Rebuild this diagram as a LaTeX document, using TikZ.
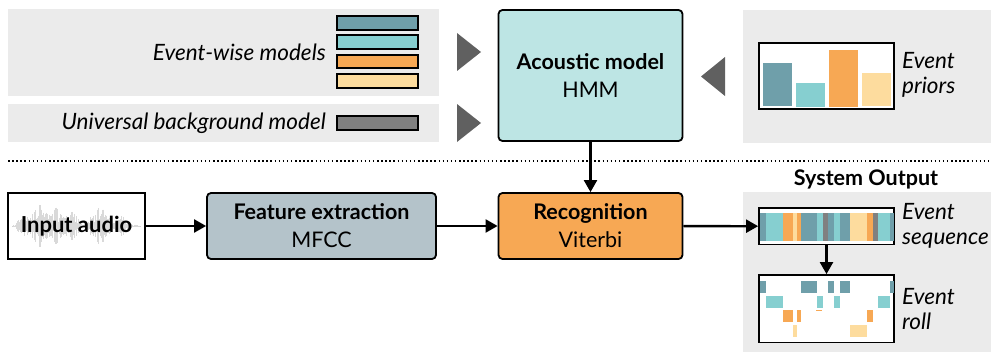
\documentclass[tikz,border=0pt]{standalone}
\usepackage{fontspec}
\setmainfont{Lato}
\usetikzlibrary{arrows.meta}
\definecolor{cTeal}{HTML}{6F9FAA}
\definecolor{cCyan}{HTML}{86CFD0}
\definecolor{cOrange}{HTML}{F7A854}
\definecolor{cYellow}{HTML}{FDDC9E}
\definecolor{cGrayM}{HTML}{808080}
\definecolor{cTri}{HTML}{606060}
\definecolor{cPanel}{HTML}{EBEBEB}
\definecolor{cAcoustic}{HTML}{BDE5E4}
\definecolor{cFeature}{HTML}{B4C3CA}
\begin{document}
\begin{tikzpicture}[x=1pt,y=-1pt,
  panel/.style={fill=cPanel},
  procbox/.style={draw=black, line width=1.8pt, rounded corners=4pt, inner sep=0pt, align=center,
    font=\fontsize{21.5}{28}\selectfont},
  plainbox/.style={draw=black, line width=1.8pt, inner sep=0pt, fill=white},
  modelbar/.style={draw=black, line width=1.2pt},
  lbl/.style={font=\fontsize{22.5}{25}\selectfont\itshape, inner sep=0pt},
  arr/.style={line width=2.3pt, -{Triangle[length=12pt,width=13pt]}},
  tri/.style={fill=cTri}
]
\useasboundingbox (0,0) rectangle (991,353);

% ---------- panels ----------
\fill[panel] (8,9) rectangle (439,96);
\fill[panel] (8,104) rectangle (439,142);
\fill[panel] (743,10) rectangle (991,143);
\fill[panel] (743,192) rectangle (991,352);

% ---------- event-wise models ----------
\node[lbl, anchor=east] (ewm) at (326,52) {Event-wise models};
\draw[modelbar, fill=cTeal]   (337,16) rectangle (418,30);
\draw[modelbar, fill=cCyan]   (337,35) rectangle (418,49);
\draw[modelbar, fill=cOrange] (337,55) rectangle (418,68);
\draw[modelbar, fill=cYellow] (337,74) rectangle (418,88);

\node[lbl, anchor=east] (ubm) at (326,123) {Universal background model};
\draw[modelbar, fill=cGrayM] (337,116) rectangle (418,130);

% triangles
\fill[tri] (457,33) -- (481,52) -- (457,71) -- cycle;
\fill[tri] (457,104) -- (481,123) -- (457,142) -- cycle;
\fill[tri] (725,57) -- (701,76.5) -- (725,96) -- cycle;

% ---------- acoustic model ----------
\node[procbox, fill=cAcoustic, minimum width=184pt, minimum height=131pt] (am) at (590.5,75.5)
  {\textbf{Acoustic model}\\HMM};

% ---------- priors ----------
\draw[plainbox] (759,43) rectangle (894,109);
\fill[cTeal]   (763,63) rectangle (792,106);
\fill[cCyan]   (796,83) rectangle (825,107);
\fill[cOrange] (829,50) rectangle (858,107);
\fill[cYellow] (862,73) rectangle (891,106);
\node[lbl, anchor=west, align=left] (pri) at (902,75) {Event\\priors};

% ---------- separator ----------
\draw[line width=1.6pt, dash pattern=on 1.5pt off 2.6pt] (8,161) -- (991,161);

% ---------- input audio ----------
\node[plainbox, minimum width=137pt, minimum height=66pt] (inp) at (76.5,226) {};
\draw[gray!35, line width=0.5pt] (12,226) -- (141,226);
\pgfmathsetseed{7}
\foreach \i in {0,...,200}{
  \pgfmathsetmacro\xx{13+\i*0.63}
  \pgfmathsetmacro\env{max(2,30-3*abs(\xx-24),44-2.5*abs(\xx-40),40-2.5*abs(\xx-56),36-3*abs(\xx-72),44-2.5*abs(\xx-100),22-2*abs(\xx-122))}
  \pgfmathsetmacro\hh{\env*(0.25+0.75*rnd)}
  \draw[gray!30, line width=0.55pt] (\xx,226-\hh/2) -- (\xx,226+\hh/2);
}
\node[font=\fontsize{22}{26}\selectfont\bfseries, inner sep=0pt] (inptxt) at (inp.center) {Input audio};

% ---------- feature extraction ----------
\node[procbox, fill=cFeature, minimum width=229pt, minimum height=66pt] (fe) at (321.5,226)
  {\textbf{Feature extraction}\\MFCC};

% ---------- recognition ----------
\node[procbox, fill=cOrange, minimum width=184pt, minimum height=66pt] (rec) at (590.5,226)
  {\textbf{Recognition}\\Viterbi};

% ---------- system output ----------
\node[font=\fontsize{21.5}{24}\selectfont\bfseries, inner sep=0pt] (sysout) at (866,179) {System Output};

\node[plainbox, minimum width=135pt, minimum height=36.5pt] (seq) at (826.5,226.25) {};
\foreach \a/\b/\c in {760/766/cTeal,766/783/cCyan,783/792.7/cOrange,792.7/797/cYellow,797/800.7/cOrange,
  800.7/817/cTeal,817/823/cCyan,823/828/cGrayM,828/834/cTeal,834/840/cCyan,840/850.3/cTeal,
  850.3/867/cYellow,867/873.3/cOrange,873.3/878/cGrayM,878/890/cCyan,890/893.5/cTeal}{
  \fill[\c] (\a,213) rectangle (\b,241);
}
\node[lbl, anchor=west, align=left] (seqtxt) at (902,226) {Event\\sequence};

\node[plainbox, minimum width=135pt, minimum height=67.5pt] (roll) at (826.5,308.75) {};
% teal row
\foreach \a/\b in {760/766,800.7/817,828/834,840/850.3,890/893.5}{\fill[cTeal] (\a,281) rectangle (\b,292.7);}
% cyan row
\foreach \a/\b in {766/783,817/823,834/840,878/890}{\fill[cCyan] (\a,296) rectangle (\b,307.7);}
% orange row
\foreach \a/\b in {783/792.7,797/800.7,867/873.3}{\fill[cOrange] (\a,310) rectangle (\b,321.7);}
\fill[cOrange] (816,310) rectangle (822,311.2);
% yellow row
\foreach \a/\b in {792.7/797,850.3/867}{\fill[cYellow] (\a,325) rectangle (\b,336.7);}
\node[lbl, anchor=west, align=left] (rolltxt) at (902,309) {Event\\roll};

% ---------- connectors ----------
\draw[arr] (inp) -- (fe);
\draw[arr] (fe) -- (rec);
\draw[arr] (am) -- (rec);
\draw[arr] (rec) -- (seq);
\draw[arr] (seq) -- (roll);
\end{tikzpicture}
\end{document}
